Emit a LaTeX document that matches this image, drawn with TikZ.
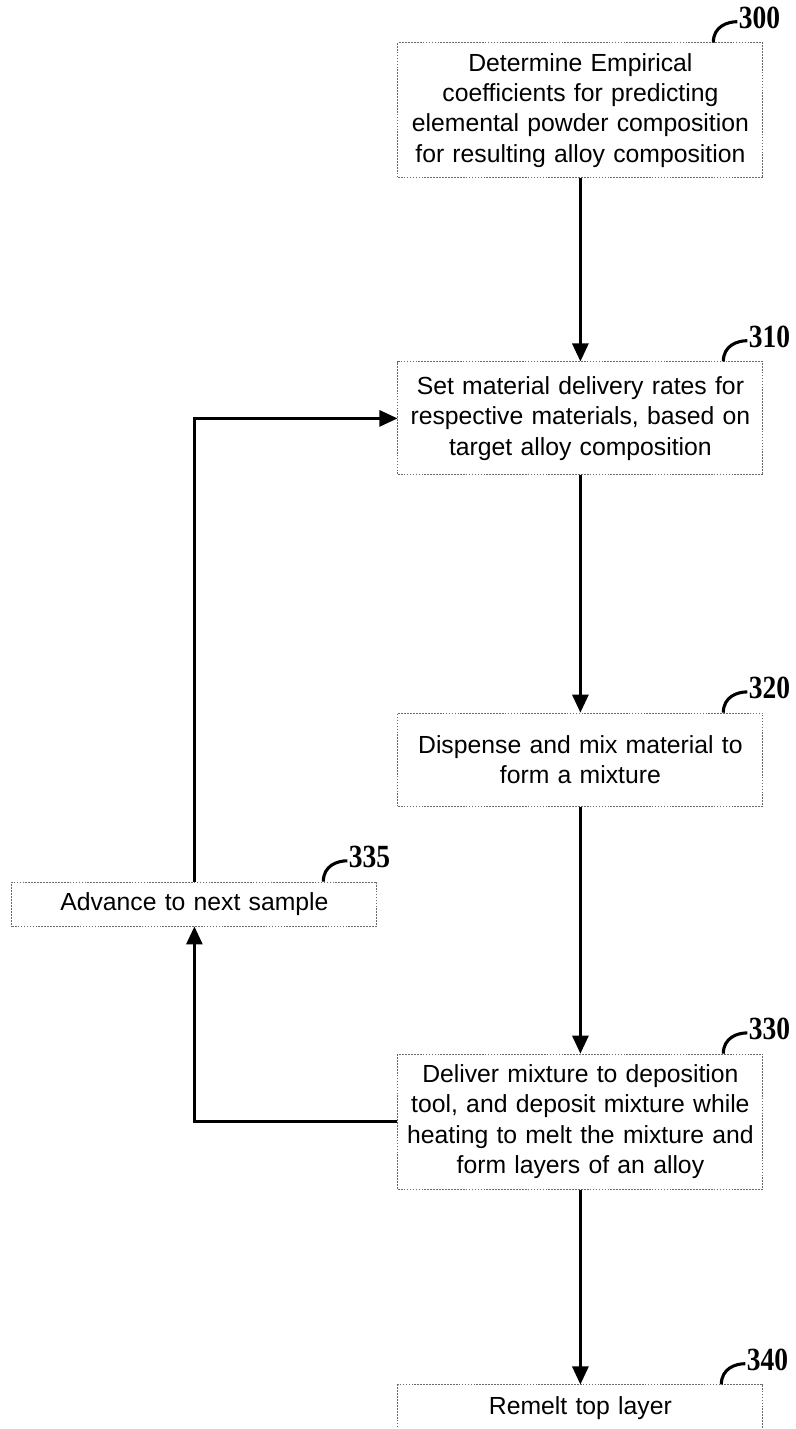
\documentclass[tikz,border=0pt]{standalone}
\usepackage{fontspec}
\setmainfont{Liberation Sans}
\newfontfamily\numfont[FakeStretch=0.85]{Liberation Serif}
\usetikzlibrary{arrows.meta}
\definecolor{boxgray}{RGB}{105,105,105}
\tikzset{
  stepbox/.style={draw=boxgray,dash pattern=on 1.2pt off 0.9pt,line width=0.6pt,minimum width=9.125cm,text width=8.9cm,align=center,inner sep=0pt,font=\fontsize{17.6}{21.5}\selectfont},
  flow/.style={-{Triangle[length=0.45cm,width=0.4cm]},line width=2pt},
  hook/.style={line width=2.2pt},
  refnum/.style={font=\numfont\bfseries\fontsize{23}{23}\selectfont,anchor=west,inner sep=0pt}
}
\newcommand{\reflabel}[3]{%
  \draw[hook] ([xshift=#3cm-0.6cm]#1.north east) .. controls +(0,0.4) and +(-0.25,0) .. ([xshift=#3cm,yshift=0.52cm]#1.north east)
    node[refnum,yshift=0.1cm]{#2};}

\begin{document}
\begin{tikzpicture}
  \useasboundingbox (0,0) rectangle (19.9,-35.725);
  \node[stepbox,minimum height=3.375cm] (s300) at (14.51,-2.76) {Determine Empirical\\coefficients for predicting\\elemental powder composition\\for resulting alloy composition};
  \node[stepbox,minimum height=2.825cm] (s310) at (14.51,-10.46) {Set material delivery rates for\\respective materials, based on\\target alloy composition};
  \node[stepbox,minimum height=2.325cm] (s320) at (14.51,-18.99) {Dispense and mix material to\\form a mixture};
  \node[stepbox,minimum height=1.1cm] (s335) at (4.86,-22.6) {Advance to next sample};
  \node[stepbox,minimum height=3.375cm] (s330) at (14.51,-28.04) {Deliver mixture to deposition\\tool, and deposit mixture while\\heating to melt the mixture and\\form layers of an alloy};
  \node[stepbox,minimum height=1.175cm] (s340) at (14.51,-35.21) {Remelt top layer};

  % main flow
  \draw[flow] (s300) -- (s310);
  \draw[flow] (s310) -- (s320);
  \draw[flow] (s320) -- (s330);
  \draw[flow] (s330) -- (s340);
  % loop back
  \draw[flow] (s330.west) -| (s335.south);
  \draw[flow] (s335.north) |- (s310.west);

  % reference numbers
  \reflabel{s300}{300}{-0.65}
  \reflabel{s310}{310}{-0.4}
  \reflabel{s320}{320}{-0.4}
  \reflabel{s335}{335}{-0.75}
  \reflabel{s330}{330}{-0.4}
  \reflabel{s340}{340}{-0.45}
\end{tikzpicture}
\end{document}
